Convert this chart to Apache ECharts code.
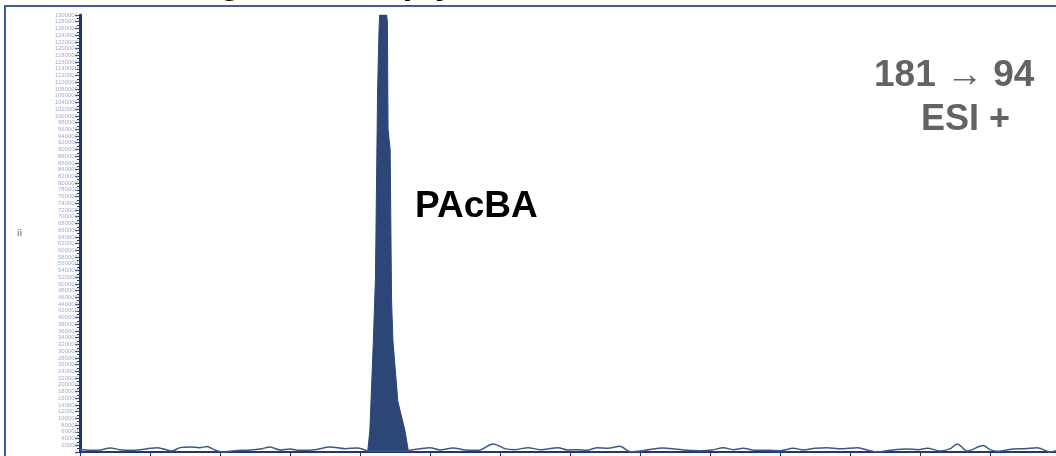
<!DOCTYPE html>
<html>
<head>
<meta charset="utf-8">
<script src="https://cdn.jsdelivr.net/npm/echarts@6/dist/echarts.min.js"></script>
<style>
  html, body { margin: 0; padding: 0; background: #fff; }
  #chart { width: 1056px; height: 456px; }
</style>
</head>
<body>
<div id="chart"></div>
<script>
// retention time (min) and relative response of the baseline trace
var noiseTime = [0.00, 0.14, 0.29, 0.43, 0.57, 0.71, 0.86, 1.00, 1.10, 1.21, 1.31, 1.43, 1.57, 1.71, 1.81, 1.93,
    2.04, 2.21, 2.43, 2.60, 2.71, 2.86, 3.00, 3.14, 3.36, 3.57, 3.79, 3.96, 4.07, 4.11,
    4.69, 4.71, 4.86, 5.00, 5.14, 5.33, 5.50, 5.69, 5.90, 6.07, 6.21, 6.40, 6.57, 6.83, 6.96, 7.10, 7.24,
    7.39, 7.54, 7.71, 7.86, 8.07, 8.33, 8.50, 8.67, 8.86, 9.03, 9.19, 9.33, 9.47, 9.64, 9.83, 10.00,
    10.19, 10.33, 10.50, 10.67, 10.86, 11.10, 11.24, 11.39, 11.57, 11.81, 11.97, 12.10, 12.29, 12.43,
    12.53, 12.67, 12.90, 13.00, 13.10, 13.21, 13.33, 13.50, 13.67, 13.86, 13.94];
var noiseValue = [0.8, 0.5, 0.6, 1.2, 0.7, 0.5, 0.7, 1.1, 1.3, 0.8, 0.3, 1.3, 1.5, 1.3, 1.6, 0.6,
    0.0, 0.4, 0.6, 1.0, 1.5, 0.6, 0.9, 0.5, 0.7, 1.5, 1.0, 1.2, 0.6, 0.3,
    0.3, 0.5, 1.0, 1.3, 0.6, 1.2, 0.6, 0.5, 2.4, 1.0, 0.7, 1.3, 0.7, 1.3, 0.6, 0.7, 0.5,
    1.3, 1.1, 1.7, 0.1, 0.5, 1.2, 0.9, 0.5, 0.4, 0.6, 1.3, 0.7, 1.1, 0.5, 0.5, 0.4,
    1.1, 0.6, 1.1, 1.3, 1.0, 1.3, 0.6, 0.0, 0.5, 0.9, 0.7, 1.1, 0.3, 1.0,
    2.4, 0.3, 1.9, 0.7, 0.2, 0.5, 0.9, 1.0, 1.3, 0.0, 0.4];

// PAcBA peak
var peakTime = [4.11, 4.14, 4.19, 4.22, 4.25, 4.27, 4.28, 4.38, 4.39, 4.40, 4.43, 4.45, 4.47, 4.54, 4.64, 4.69];
var peakValue = [0.3, 6.5, 33, 52, 107, 125, 130, 130, 128, 96, 90, 45, 33, 15, 6.5, 0.3];

var titleText = 'Chromatogram of empty matrix';
var peakLabel = 'PAcBA';
var transitionLabel = '181 \u2192 94';
var modeLabel = 'ESI +';

function pairs(xs, ys) {
    return xs.map(function (x, i) { return [x, ys[i]]; });
}

var dom = document.getElementById('chart');
var myChart = echarts.init(dom, null, { renderer: 'canvas' });

var lineColor = '#3a5790';
var axisColor = '#1f3872';

var option = {
    animation: false,
    backgroundColor: '#fff',
    grid: {
        left: 80,
        right: 0,
        top: 15,
        bottom: 4,
        outerBoundsMode: 'none'
    },
    xAxis: {
        type: 'value',
        min: 0,
        max: 13.94,
        interval: 1,
        axisLine: { lineStyle: { color: axisColor, width: 2 } },
        axisTick: { show: true, length: 4, lineStyle: { color: axisColor } },
        axisLabel: { show: false },
        splitLine: { show: false }
    },
    yAxis: {
        type: 'value',
        min: 0,
        max: 130,
        interval: 2,
        name: 'ii',
        nameLocation: 'middle',
        nameGap: 58,
        nameRotate: 0,
        nameTextStyle: { fontSize: 9, color: '#7d8bab', fontWeight: 'bold' },
        axisLine: { show: true, lineStyle: { color: axisColor, width: 3 } },
        axisTick: { show: true, length: 5, lineStyle: { color: axisColor } },
        minorTick: { show: true, splitNumber: 2, length: 3, lineStyle: { color: axisColor } },
        axisLabel: {
            fontSize: 6,
            color: '#a3aecb',
            margin: 2,
            formatter: function (v) { return String(v * 10000); }
        },
        splitLine: { show: false }
    },
    graphic: [
        {
            // title, mostly cut off above the picture
            type: 'text',
            x: 59,
            y: 2,
            style: {
                text: titleText,
                font: 'bold 34px "Liberation Sans", Arial, sans-serif',
                verticalAlign: 'bottom',
                fill: '#000'
            }
        },
        {
            type: 'rect',
            shape: { x: 5, y: 6, width: 1070, height: 470 },
            style: { fill: null, stroke: '#3d5e9c', lineWidth: 2 },
            z: 100
        },
        {
            type: 'text',
            left: 415,
            top: 188,
            style: {
                text: peakLabel,
                font: 'bold 37px "Liberation Sans", Arial, sans-serif',
                fill: '#000'
            }
        },
        {
            type: 'text',
            left: 874,
            top: 57,
            style: {
                text: transitionLabel,
                font: 'bold 37px "Liberation Sans", Arial, sans-serif',
                fill: '#636363'
            }
        },
        {
            type: 'text',
            left: 921,
            top: 102,
            style: {
                text: modeLabel,
                font: 'bold 36px "Liberation Sans", Arial, sans-serif',
                fill: '#636363'
            }
        }
    ],
    series: [
        {
            name: 'baseline',
            type: 'line',
            data: pairs(noiseTime, noiseValue),
            showSymbol: false,
            smooth: 0.3,
            lineStyle: { color: lineColor, width: 1.5 },
            z: 3
        },
        {
            name: 'PAcBA',
            type: 'line',
            data: pairs(peakTime, peakValue),
            showSymbol: false,
            lineStyle: { color: '#2c4677', width: 1 },
            areaStyle: { color: '#2c4677', opacity: 1 },
            z: 2
        }
    ]
};

if (option && typeof option === 'object') {
    myChart.setOption(option, true);
}
</script>
</body>
</html>
